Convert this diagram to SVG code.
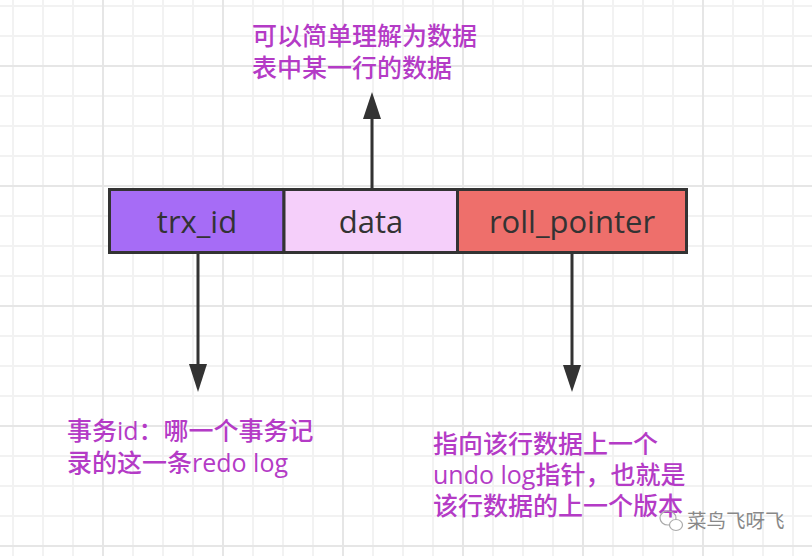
<svg xmlns="http://www.w3.org/2000/svg" width="812" height="556" viewBox="0 0 812 556">
<style>
.minor{stroke:#f2f2f2;stroke-width:2;fill:none}
.major{stroke:#e6e6e6;stroke-width:2;fill:none}
.cell{stroke:#333;stroke-width:3}
.cellt{font-family:"Open Sans","Liberation Sans",sans-serif;font-size:31px;fill:#333;text-anchor:middle}
.note{font-family:"Open Sans","Noto Sans CJK SC",sans-serif;font-size:25px;font-weight:500;fill:#b43bc6}
.conn{stroke:#333;stroke-width:3;fill:none}
</style>
<rect width="812" height="556" fill="#fff"/>
<g id="grid">
<path class="minor" d="M13,0V556M43,0V556M73,0V556M133,0V556M163,0V556M193,0V556M253,0V556M283,0V556M313,0V556M373,0V556M403,0V556M433,0V556M493,0V556M523,0V556M553,0V556M613,0V556M643,0V556M673,0V556M733,0V556M763,0V556M793,0V556M0,6H812M0,36H812M0,96H812M0,126H812M0,156H812M0,216H812M0,246H812M0,276H812M0,336H812M0,366H812M0,396H812M0,456H812M0,486H812M0,516H812"/>
<path class="major" d="M103,0V556M223,0V556M343,0V556M463,0V556M583,0V556M703,0V556M0,66H812M0,186H812M0,306H812M0,426H812M0,546H812"/>
</g>
<g id="connectors">
<path class="conn" d="M372,189V119"/>
<polygon points="372,92 363,119 381,119" fill="#333"/>
<path class="conn" d="M198,253V364"/>
<polygon points="198,392 189,364 207,364" fill="#333"/>
<path class="conn" d="M572,253V365"/>
<polygon points="572,392 563,365 581,365" fill="#333"/>
</g>
<g id="trx_id">
<rect class="cell" x="109.5" y="189.5" width="174.5" height="63" fill="#a66cf6"/>
<text class="cellt" x="197" y="233">trx_id</text>
</g>
<g id="data">
<rect class="cell" x="284" y="189.5" width="173.5" height="63" fill="#f5cffa"/>
<text class="cellt" x="371" y="233">data</text>
</g>
<g id="roll_pointer">
<rect class="cell" x="457.5" y="189.5" width="229" height="63" fill="#ee6f6b"/>
<text class="cellt" x="572" y="233">roll_pointer</text>
</g>
<g id="note-data">
<text class="note" x="252" y="45" font-size="25.7">可以简单理解为数据</text>
<text class="note" x="252" y="77" font-size="25.7">表中某一行的数据</text>
</g>
<g id="note-trx">
<text class="note" x="67" y="440">事务id：哪一个事务记</text>
<text class="note" x="67" y="472">录的这一条redo log</text>
</g>
<g id="note-roll">
<text class="note" x="433" y="453">指向该行数据上一个</text>
<text class="note" x="433" y="484">undo log指针，也就是</text>
<text class="note" x="433" y="515">该行数据的上一个版本</text>
</g>
<g id="watermark">
<ellipse cx="668" cy="518" rx="8" ry="7" fill="none" stroke="#aaa" stroke-width="1.2"/>
<ellipse cx="676" cy="525" rx="6.5" ry="5.5" fill="#fff" stroke="#aaa" stroke-width="1.2"/>
<text x="687" y="528" font-family="'Noto Sans CJK SC',sans-serif" font-size="19.5" fill="#888">菜鸟飞呀飞</text>
</g>
</svg>
